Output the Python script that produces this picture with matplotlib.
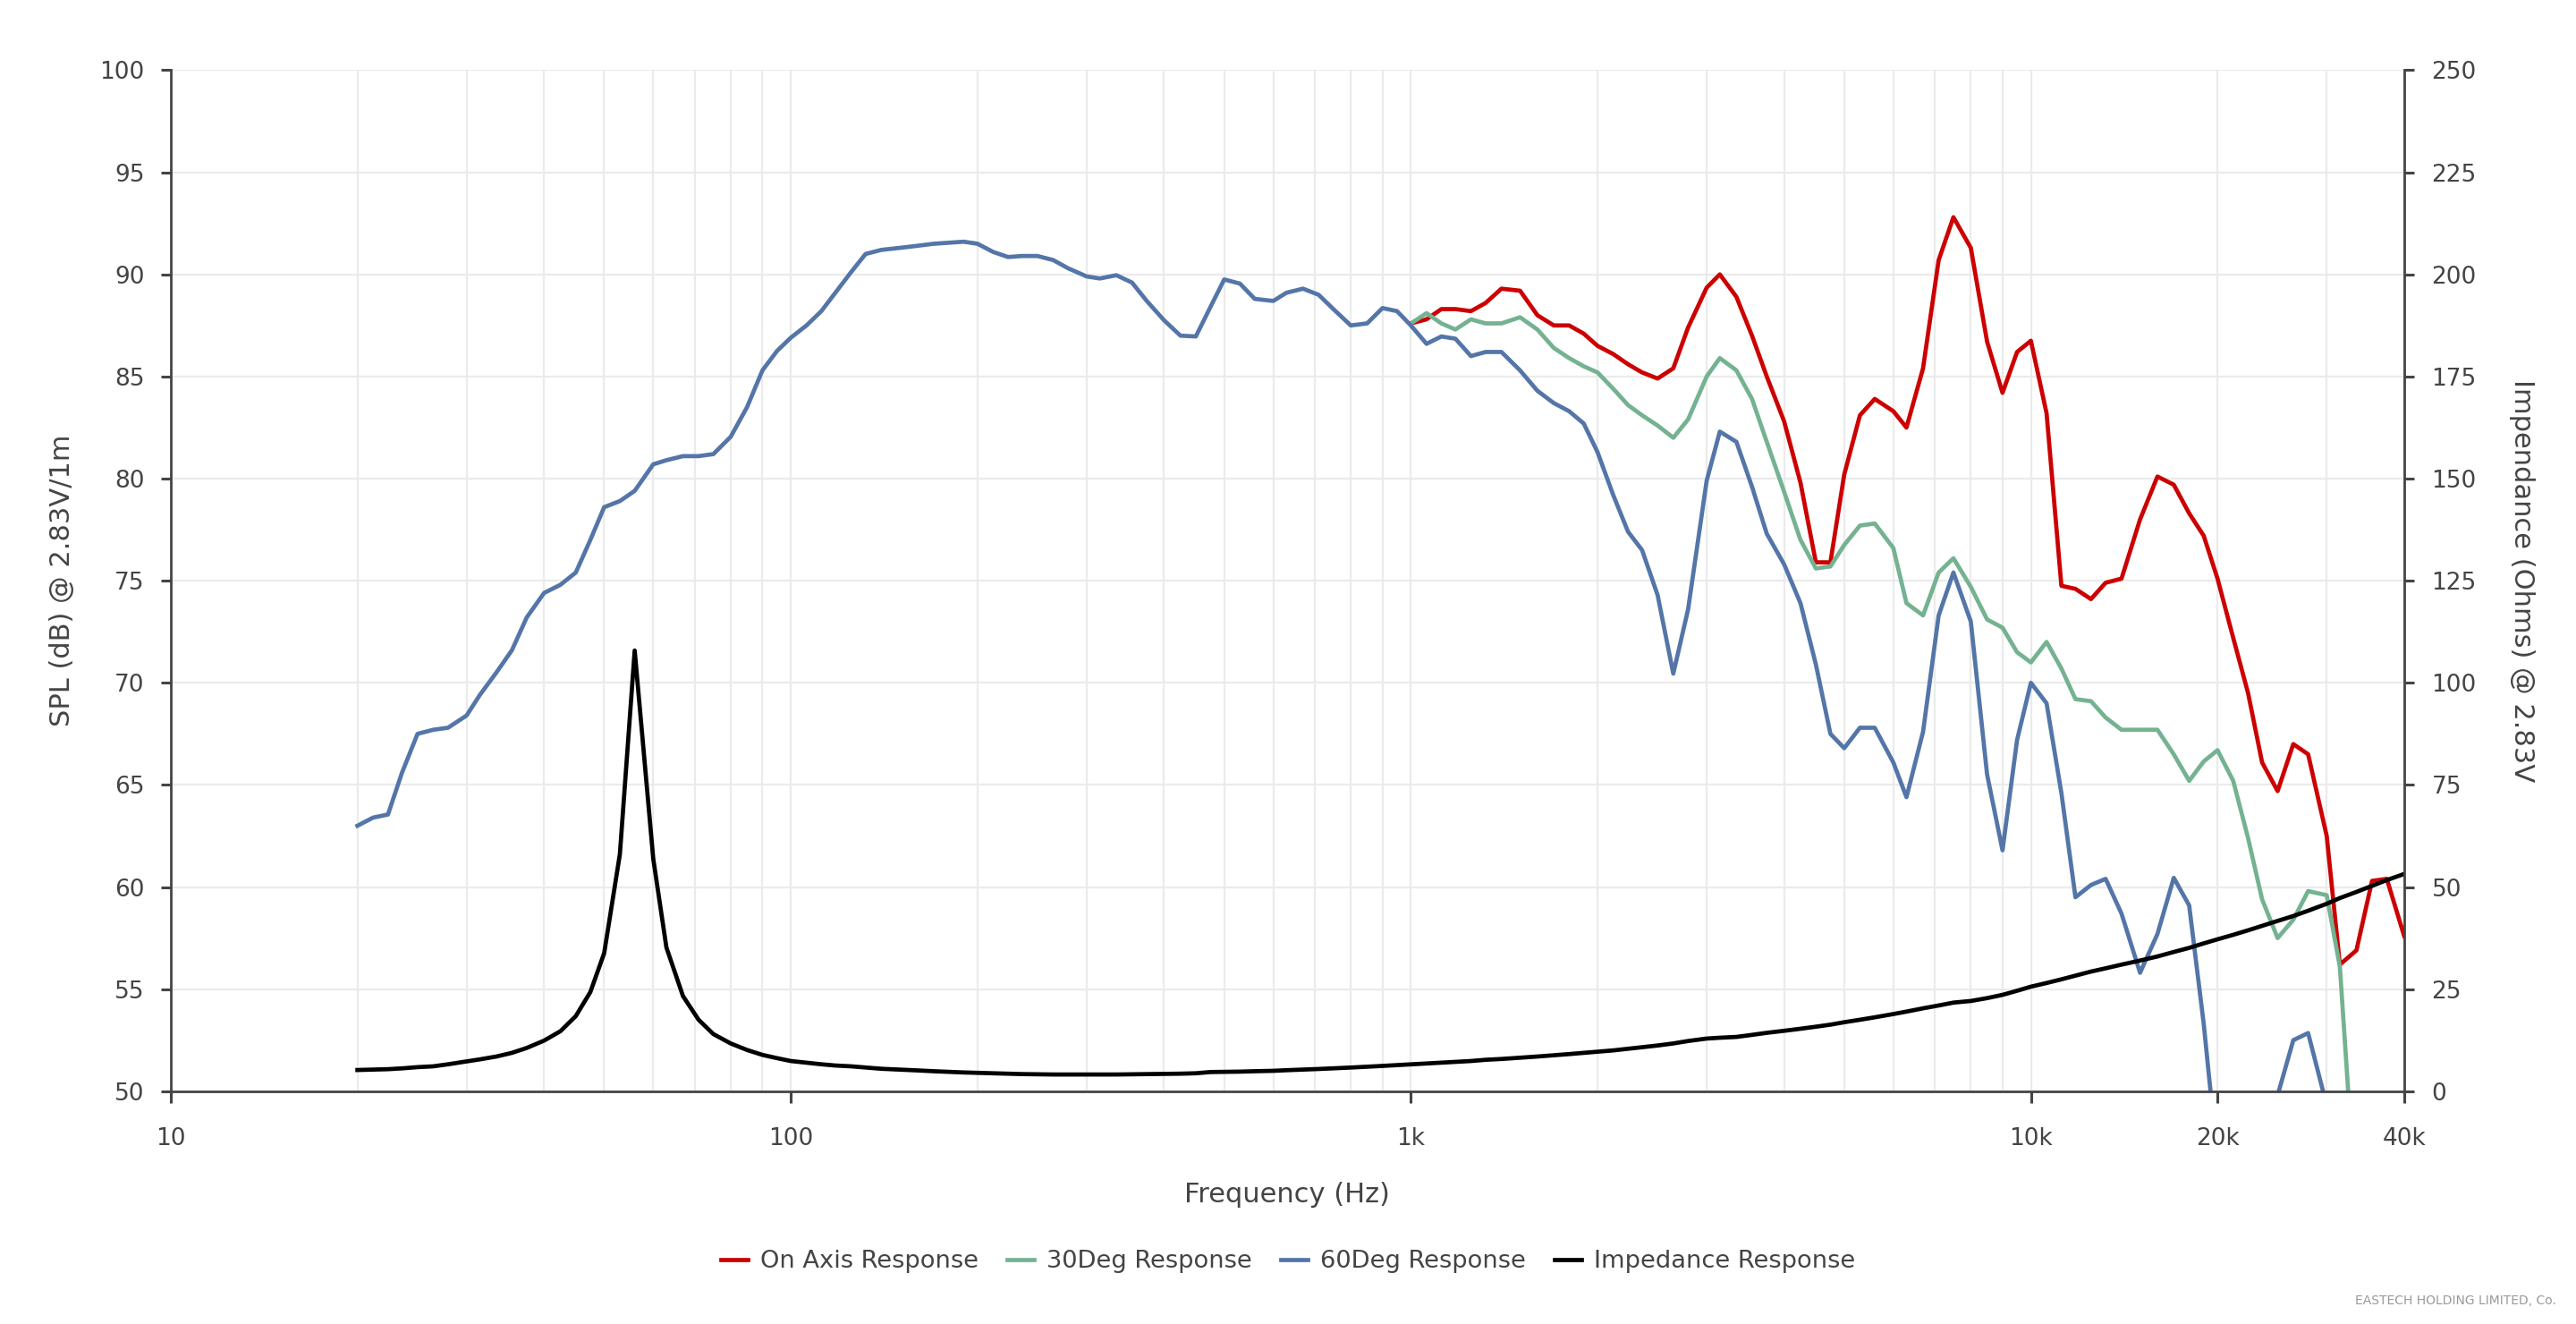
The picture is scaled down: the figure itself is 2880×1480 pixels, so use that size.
import numpy as np
import matplotlib
matplotlib.use('Agg')
import matplotlib.pyplot as plt
from matplotlib.ticker import FixedLocator, NullFormatter

# ---------------------------------------------------------
# DATA (1/12 octave points)
# ---------------------------------------------------------

freq = [20, 21.2, 22.4, 23.6, 25, 26.5, 28, 30, 31.5, 33.5, 35.5, 37.5,
        40, 42.5, 45, 47.5, 50, 53, 56, 60, 63, 67, 71, 75,
        80, 85, 90, 95, 100, 106, 112, 118, 125, 132, 140, 150,
        160, 170, 180, 190, 200, 212, 224, 236, 250, 265, 280, 300,
        315, 335, 355, 375, 400, 425, 450, 475, 500, 530, 560, 600,
        630, 670, 710, 750, 800, 850, 900, 950,
        1000, 1060, 1120, 1180, 1250, 1320, 1400, 1500, 1600, 1700, 1800, 1900,
        2000, 2120, 2240, 2360, 2500, 2650, 2800, 3000, 3150, 3350, 3550, 3750,
        4000, 4250, 4500, 4750, 5000, 5300, 5600, 6000, 6300, 6700, 7100, 7500,
        8000, 8500, 9000, 9500, 10000, 10600, 11200, 11800, 12500, 13200, 14000, 15000,
        16000, 17000, 18000, 19000, 20000, 21200, 22400, 23600, 25000, 26500, 28000, 30000,
        31500, 33500, 35500, 37500, 40000]

# On axis SPL, starts at 1 kHz
spl_on_axis = [87.6, 87.8, 88.3, 88.3, 88.2, 88.6, 89.3, 89.2, 88.0, 87.5, 87.5, 87.1,
               86.5, 86.1, 85.6, 85.2, 84.9, 85.4, 87.4, 89.35, 90.0, 88.9, 87.0, 85.0,
               82.8, 79.8, 75.9, 75.9, 80.2, 83.1, 83.9, 83.3, 82.5, 85.4, 90.7, 92.8,
               91.3, 86.7, 84.2, 86.2, 86.75, 83.2, 74.75, 74.6, 74.1, 74.9, 75.1, 78.0,
               80.1, 79.7, 78.3, 77.2, 75.1, 72.2, 69.5, 66.1, 64.7, 67.0, 66.5, 62.5,
               56.2, 56.9, 60.3, 60.4, 57.6]

# 30 degree SPL, starts at 1 kHz
spl_30deg = [87.6, 88.1, 87.6, 87.3, 87.8, 87.6, 87.6, 87.9, 87.3, 86.4, 85.9, 85.5,
             85.2, 84.4, 83.6, 83.1, 82.6, 82.0, 82.9, 85.0, 85.9, 85.3, 83.9, 81.8,
             79.35, 77.0, 75.6, 75.7, 76.75, 77.7, 77.8, 76.6, 73.9, 73.3, 75.4, 76.1,
             74.7, 73.1, 72.7, 71.5, 71.0, 72.0, 70.7, 69.2, 69.1, 68.3, 67.7, 67.7,
             67.7, 66.5, 65.2, 66.15, 66.7, 65.2, 62.4, 59.4, 57.5, 58.4, 59.8, 59.6,
             56.1, 44.0]

# 60 degree SPL, starts at 20 Hz
spl_60deg = [63.0, 63.4, 63.55, 65.6, 67.5, 67.7, 67.8, 68.4, 69.4, 70.5, 71.6, 73.2,
             74.4, 74.8, 75.4, 77.0, 78.6, 78.9, 79.4, 80.7, 80.9, 81.1, 81.1, 81.2,
             82.05, 83.5, 85.3, 86.25, 86.9, 87.5, 88.2, 89.1, 90.1, 91.0, 91.2, 91.3,
             91.4, 91.5, 91.55, 91.6, 91.5, 91.1, 90.85, 90.9, 90.9, 90.7, 90.3, 89.9,
             89.8, 89.96, 89.6, 88.7, 87.75, 87.0, 86.96, 88.4, 89.75, 89.55, 88.8, 88.7,
             89.1, 89.3, 89.0, 88.3, 87.5, 87.6, 88.35, 88.2,
             87.5, 86.6, 86.96, 86.85, 86.0, 86.2, 86.2, 85.3, 84.3, 83.7, 83.3, 82.7,
             81.3, 79.2, 77.4, 76.5, 74.3, 70.45, 73.6, 79.9, 82.3, 81.8, 79.6, 77.3,
             75.8, 73.9, 70.9, 67.5, 66.8, 67.8, 67.8, 66.1, 64.4, 67.6, 73.3, 75.4,
             73.0, 65.5, 61.8, 67.2, 70.0, 69.0, 64.6, 59.5, 60.1, 60.4, 58.7, 55.8,
             57.7, 60.45, 59.1, 53.3, 46.6, 44.0, 44.0, 47.0, 49.8, 52.5, 52.85, 49.3]

# impedance in ohms, 20 Hz .. 40 kHz
impedance = [5.2, 5.3, 5.4, 5.6, 5.9, 6.1, 6.6, 7.3, 7.8, 8.5, 9.4, 10.6,
             12.4, 14.7, 18.4, 24.3, 33.8, 58.0, 107.9, 56.9, 35.2, 23.3, 17.5, 14.0,
             11.7, 10.1, 8.9, 8.1, 7.4, 7.0, 6.6, 6.3, 6.1, 5.8, 5.5, 5.3,
             5.1, 4.9, 4.75, 4.6, 4.5, 4.4, 4.3, 4.2, 4.15, 4.1, 4.1, 4.1,
             4.1, 4.1, 4.15, 4.2, 4.25, 4.3, 4.4, 4.7, 4.75, 4.8, 4.9, 5.0,
             5.15, 5.3, 5.45, 5.6, 5.8, 6.0, 6.2, 6.4,
             6.6, 6.8, 7.0, 7.2, 7.4, 7.7, 7.9, 8.2, 8.5, 8.8, 9.1, 9.4,
             9.7, 10.0, 10.4, 10.8, 11.2, 11.7, 12.3, 12.9, 13.1, 13.3, 13.8, 14.3,
             14.8, 15.3, 15.8, 16.3, 16.9, 17.5, 18.1, 18.9, 19.5, 20.3, 21.0, 21.7,
             22.1, 22.8, 23.6, 24.6, 25.6, 26.5, 27.4, 28.3, 29.3, 30.1, 31.0, 32.0,
             33.0, 34.1, 35.1, 36.2, 37.2, 38.3, 39.4, 40.5, 41.7, 42.9, 44.2, 45.9,
             47.3, 48.8, 50.3, 51.7, 53.2]

major_x = [10, 100, 1000, 10000, 20000, 40000]
major_x_labels = ['10', '100', '1k', '10k', '20k', '40k']

# ---------------------------------------------------------
# PLOTTING
# ---------------------------------------------------------

text_col = '#444444'
fig = plt.figure(figsize=(14.4, 7.4), dpi=200)
ax = fig.add_axes([0.0663, 0.1758, 0.8670, 0.7712])

i0 = len(freq) - len(spl_on_axis)   # 1 kHz start index
l_on, = ax.plot(freq[i0:i0 + len(spl_on_axis)], spl_on_axis, color='#cc0000', lw=1.7, label='On Axis Response')
l_30, = ax.plot(freq[i0:i0 + len(spl_30deg)], spl_30deg, color='#74b291', lw=1.7, label='30Deg Response')
l_60, = ax.plot(freq[:len(spl_60deg)], spl_60deg, color='#5475a8', lw=1.7, label='60Deg Response')

ax.set_xscale('log')
ax.set_xlim(10, 40000)
ax.set_ylim(50, 100)
ax.set_yticks(np.arange(50, 101, 5))

ax.xaxis.set_major_locator(FixedLocator(major_x))
ax.set_xticklabels(major_x_labels)
minors = [m * d for d in [10, 100, 1000, 10000] for m in range(2, 10)
          if m * d not in major_x and m * d <= 40000]
ax.xaxis.set_minor_locator(FixedLocator(minors))
ax.xaxis.set_minor_formatter(NullFormatter())

ax.grid(True, which='both', color='#ebebeb', lw=0.8)
ax.set_axisbelow(True)

ax.tick_params(axis='x', which='minor', length=0)
ax.tick_params(axis='x', which='major', length=4.5, width=1.1, pad=10,
               colors=text_col, labelsize=9.5)
ax.tick_params(axis='y', length=4, width=1.1, pad=6.5, colors=text_col, labelsize=9.5)

for s in ['top', 'right']:
    ax.spines[s].set_visible(False)
for s in ['left', 'bottom']:
    ax.spines[s].set_color(text_col)
    ax.spines[s].set_linewidth(1.0)

# impedance on right axis
ax2 = ax.twinx()
l_imp, = ax2.plot(freq, impedance, color='black', lw=1.7, label='Impedance Response')
ax2.set_ylim(0, 250)
ax2.set_yticks(np.arange(0, 251, 25))
ax2.tick_params(axis='y', length=4, width=1.1, pad=7, colors=text_col, labelsize=9.5)
for s in ['top', 'left', 'bottom']:
    ax2.spines[s].set_visible(False)
ax2.spines['right'].set_color(text_col)
ax2.spines['right'].set_linewidth(1.0)

# labels
ax.set_xlabel('Frequency (Hz)', fontsize=11, color=text_col, va='center')
ax.xaxis.set_label_coords(0.5, -0.101)
ax.set_ylabel('SPL (dB) @ 2.83V/1m', fontsize=11, color=text_col, va='center')
ax.yaxis.set_label_coords(-0.0485, 0.5)
ax2.set_ylabel('Impendance (Ohms) @ 2.83V', fontsize=11, color=text_col,
               rotation=-90, va='center')
ax2.yaxis.set_label_coords(1.0528, 0.5)

handles = [l_on, l_30, l_60, l_imp]
fig.legend(handles, [h.get_label() for h in handles], loc='center',
           bbox_to_anchor=(0.5, 0.047), ncol=4, frameon=False, fontsize=9.8,
           handlelength=1.1, handletextpad=0.5, columnspacing=1.2,
           labelcolor=text_col)

fig.text(0.9924, 0.0176, 'EASTECH HOLDING LIMITED, Co.', ha='right', va='center',
         fontsize=5, color='#999999')

plt.savefig('out.png', dpi=200)
